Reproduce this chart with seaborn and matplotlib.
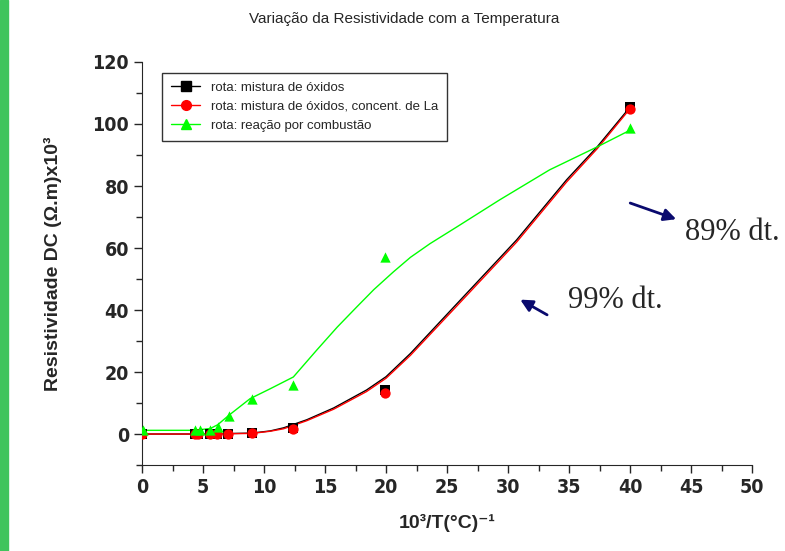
import matplotlib
matplotlib.use("Agg")
import matplotlib.pyplot as plt
import seaborn as sns
import pandas as pd
import numpy as np
from matplotlib.lines import Line2D
from matplotlib.patches import Rectangle
from matplotlib.ticker import MultipleLocator

# measured points
x_oxid = [0, 4.3, 4.6, 5.6, 6.15, 7.05, 9.0, 12.4, 19.9, 40]
y_oxid = [0, 0, 0, 0, 0, 0, 0.4, 1.8, 14.3, 105.5]
x_la = [0, 4.3, 4.6, 5.6, 6.15, 7.05, 9.0, 12.4, 19.9, 40]
y_la = [0, 0, 0, 0, 0, 0, 0.2, 1.6, 13.3, 104.8]
x_comb = [0.1, 4.3, 4.75, 5.6, 6.2, 7.1, 9.0, 12.4, 19.9, 40]
y_comb = [1.2, 1.2, 1.2, 1.4, 2.2, 5.8, 11.2, 15.8, 57, 98.8]

# fitted curves
cx_oxid = [0, 5, 9, 10.5, 11.6, 13.5, 15.7, 18.4, 20, 22, 25.8, 29.3, 30.7, 34.8, 37.3, 39.8]
cy_oxid = [0, 0, 0.3, 1, 2, 4.6, 8.4, 14.2, 18.5, 26, 42, 56.7, 62.6, 82, 92.6, 104.5]
cx_la = [0, 5, 9, 10.5, 11.6, 13.5, 15.7, 18.4, 20, 22, 25.8, 29.3, 30.7, 34.8, 37.3, 39.8]
cy_la = [0, 0, 0.2, 0.9, 1.7, 4.3, 8.0, 13.7, 18.0, 25.4, 41.3, 56.0, 61.9, 81.3, 92.0, 104.0]
cx_comb = [0, 4.3, 5.6, 6.2, 7.1, 8.85, 10.5, 12.4, 14.3, 16, 17.6, 19, 20.6, 22, 23.6, 25.8,
           29.3, 33.4, 37.3, 40]
cy_comb = [1.2, 1.2, 1.8, 3, 6, 11.4, 14.6, 18.4, 27, 34.5, 41, 46.6, 52.3, 57.0, 61.4, 66.8,
           75.5, 85.2, 92.6, 98]

labels = ["rota: mistura de óxidos",
          "rota: mistura de óxidos, concent. de La",
          "rota: reação por combustão"]
colors = ["black", "red", "#00ff00"]
markers = ["s", "o", "^"]

sns.set_style("ticks")
plt.rcParams['font.family'] = ['Liberation Sans', 'DejaVu Sans']

fig = plt.figure(figsize=(7.85, 5.51), dpi=100)
ax = fig.add_axes([0.181, 0.156, 0.777, 0.7315])

fig.patches.append(Rectangle((0, 0), 8 / 785, 1, transform=fig.transFigure,
                             color="#3fc45c", zorder=0))

curves = [(cx_oxid, cy_oxid), (cx_la, cy_la), (cx_comb, cy_comb)]
points = [(x_oxid, y_oxid), (x_la, y_la), (x_comb, y_comb)]
for (cx, cy), (px, py), c, m in zip(curves, points, colors, markers):
    sns.lineplot(x=cx, y=cy, ax=ax, color=c, lw=1, sort=False, estimator=None)
    sns.scatterplot(x=px, y=py, ax=ax, color=c, marker=m, s=55,
                    edgecolor=c, linewidth=0, zorder=3)

ax.set_xlim(0, 50)
ax.set_ylim(-10, 120)
ax.xaxis.set_major_locator(MultipleLocator(5))
ax.xaxis.set_minor_locator(MultipleLocator(2.5))
ax.yaxis.set_minor_locator(MultipleLocator(10))
ax.set_yticks(range(0, 121, 20))
sns.despine(ax=ax)
ax.spines['left'].set_bounds(-10, 120)
ax.tick_params(which='major', length=6, width=1, direction='out')
ax.tick_params(which='minor', length=4, width=1, direction='out')
for lab in ax.get_xticklabels() + ax.get_yticklabels():
    lab.set_fontfamily(['DejaVu Sans'])
    lab.set_fontstretch('condensed')
    lab.set_fontweight('bold')
    lab.set_fontsize(14)

ax.set_xlabel("10³/T(°C)⁻¹", fontsize=14, fontweight='bold', labelpad=12)
ax.set_ylabel("Resistividade DC (Ω.m)x10³", fontsize=14,
              fontweight='bold', labelpad=22)
fig.text(0.515, 0.966, "Variação da Resistividade com a Temperatura",
         ha='center', va='center', fontsize=11)

handles = [Line2D([], [], color=c, marker=m, markersize=7, lw=1)
           for c, m in zip(colors, markers)]
leg = ax.legend(handles, labels, loc='upper left', bbox_to_anchor=(0.022, 0.99),
                fontsize=9.5, frameon=True, fancybox=False, edgecolor='black',
                handlelength=2.2, borderpad=0.7, labelspacing=0.5)
leg.get_frame().set_linewidth(1)

navy = "#0a0a6e"
ax.annotate("", xy=(44.0, 69.0), xytext=(39.8, 74.8),
            arrowprops=dict(arrowstyle="-|>", color=navy, lw=2, mutation_scale=18))
ax.annotate("", xy=(30.8, 43.8), xytext=(33.4, 38.0),
            arrowprops=dict(arrowstyle="-|>", color=navy, lw=2, mutation_scale=18))
ax.text(44.5, 65.0, "89% dt.", fontsize=22, family='Liberation Serif', va='center',
        clip_on=False)
ax.text(34.9, 43.2, "99% dt.", fontsize=22, family='Liberation Serif', va='center')

fig.savefig("out.png", dpi=100)
